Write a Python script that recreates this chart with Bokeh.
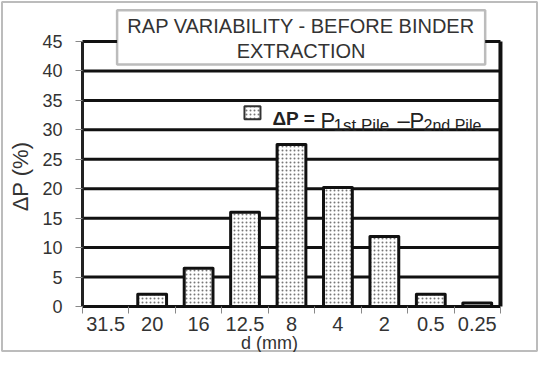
from bokeh.plotting import figure
from bokeh.models import Range1d, FixedTicker, Label, BoxAnnotation, ColumnDataSource
from bokeh.embed import file_html
from bokeh.resources import INLINE

# ---- data ----
sizes = ["31.5", "20", "16", "12.5", "8", "4", "2", "0.5", "0.25"]
delta_p = [0, 2.1, 6.5, 16, 27.5, 20.2, 11.9, 2.1, 0.6]
y_ticks = [0, 5, 10, 15, 20, 25, 30, 35, 40, 45]
title_lines = ["RAP VARIABILITY - BEFORE BINDER", "EXTRACTION"]

FONT = "Liberation Sans"
TXT = "#333333"
N = len(sizes)
Y_MAX = y_ticks[-1]

# ---- layout (pixel placement of the plotting area inside the canvas) ----
W, H = 538, 352
PX0, PXU = 82.0, 46.44      # pixel of x=0 and pixels per category
PY0, PYU = 306.0, 5.889     # pixel of y=0 and pixels per unit of y


def dx(px):
    return (px - PX0) / PXU


def dy(py):
    return (PY0 - py) / PYU


x_pos = [i + 0.5 for i in range(N)]
src = ColumnDataSource(dict(x=x_pos, top=delta_p, label=sizes))

p = figure(width=W, height=H, output_backend="svg", toolbar_location=None,
           x_range=Range1d(dx(0), dx(W)), y_range=Range1d(dy(H), dy(0)),
           min_border=0, min_border_left=0, min_border_right=0,
           min_border_top=0, min_border_bottom=0,
           background_fill_color="white", border_fill_color="white")
p.outline_line_color = None
p.xgrid.visible = False
p.ygrid.visible = False

# horizontal grid lines across the plotting area (x = 0 .. N)
p.segment(x0=[0] * len(y_ticks), y0=y_ticks, x1=[N] * len(y_ticks), y1=y_ticks,
          line_color="#111111", line_width=3)
# left / right edges of the plotting area
p.segment(x0=[0, N], y0=[0, 0], x1=[0, N], y1=[Y_MAX, Y_MAX],
          line_color=["#222222", "#111111"], line_width=[3, 4])

# y axis (fixed at x = 0)
p.yaxis.fixed_location = 0
p.yaxis.ticker = FixedTicker(ticks=y_ticks)
p.yaxis.axis_line_color = None
p.yaxis.major_tick_line_color = "#888888"
p.yaxis.major_tick_out = 7
p.yaxis.major_tick_in = 0
p.yaxis.minor_tick_line_color = None
p.yaxis.major_label_standoff = 13
p.yaxis.major_label_text_font = FONT
p.yaxis.major_label_text_font_size = "18px"
p.yaxis.major_label_text_color = TXT
p.yaxis.axis_label = "\u0394P (%)"
p.yaxis.axis_label_text_font = FONT
p.yaxis.axis_label_text_font_size = "22px"
p.yaxis.axis_label_text_font_style = "normal"
p.yaxis.axis_label_text_color = TXT
p.yaxis.axis_label_standoff = 6

# x axis (fixed at y = 0): labels at centres, ticks at category boundaries
p.xaxis.fixed_location = 0
p.xaxis.ticker = FixedTicker(ticks=x_pos, minor_ticks=list(range(N + 1)))
p.xaxis.major_label_overrides = {x: s for x, s in zip(x_pos, sizes)}
p.xaxis.axis_line_color = None
p.xaxis.major_tick_out = 0
p.xaxis.major_tick_in = 0
p.xaxis.minor_tick_out = 7
p.xaxis.minor_tick_in = 0
p.xaxis.minor_tick_line_color = "#888888"
p.xaxis.major_label_standoff = 3
p.xaxis.major_label_text_font = FONT
p.xaxis.major_label_text_font_size = "20px"
p.xaxis.major_label_text_color = TXT
p.xaxis.axis_label = "d (mm)"
p.xaxis.axis_label_text_font = FONT
p.xaxis.axis_label_text_font_size = "18px"
p.xaxis.axis_label_text_font_style = "normal"
p.xaxis.axis_label_text_color = TXT
p.xaxis.axis_label_standoff = -1

# bars
p.vbar(x="x", top="top", width=0.62, source=src, fill_color="white",
       line_color="#111111", line_width=3, line_join="round",
       hatch_pattern="dot", hatch_color="#777777", hatch_scale=4, hatch_weight=1.3)

# legend (manual)
p.rect(x=[3.66], y=[32.9], width=16, height=13, width_units="screen", height_units="screen",
       fill_color="white", line_color="#333333", line_width=2,
       hatch_pattern="dot", hatch_color="#777777", hatch_scale=4, hatch_weight=1.3)
legend_parts = [
    (4.09, 31.9, "\u0394P =", "19px", "bold"),
    (5.125, 31.57, "P", "22px", "normal"),
    (5.405, 30.73, "1st  Pile", "17px", "normal"),
    (6.783, 31.57, "\u2013", "22px", "normal"),
    (7.041, 31.57, "P", "22px", "normal"),
    (7.343, 30.73, "2nd Pile", "16px", "normal"),
]
for lx, ly, txt, fs, st in legend_parts:
    p.add_layout(Label(x=lx, y=ly, text=txt, text_font=FONT, text_font_size=fs,
                       text_font_style=st, text_color="#222222",
                       text_align="left", text_baseline="alphabetic"))

# title box
p.add_layout(BoxAnnotation(left=0.745, right=8.671, top=50.3, bottom=41.1,
                           fill_color="white", fill_alpha=1.0,
                           line_color="#222222", line_width=2.5))
for ty, t in zip([47.6, 43.4], title_lines):
    p.add_layout(Label(x=4.707, y=ty, text=t, text_font=FONT, text_font_size="20px",
                       text_color=TXT, text_align="center", text_baseline="middle"))

# outer border around the whole chart
p.add_layout(BoxAnnotation(left=dx(1.5), right=dx(W - 1.5), top=dy(1.5), bottom=dy(H - 1.5),
                           fill_alpha=0, line_color="#222222", line_width=2))

open("out.html", "w").write(file_html(p, INLINE))
